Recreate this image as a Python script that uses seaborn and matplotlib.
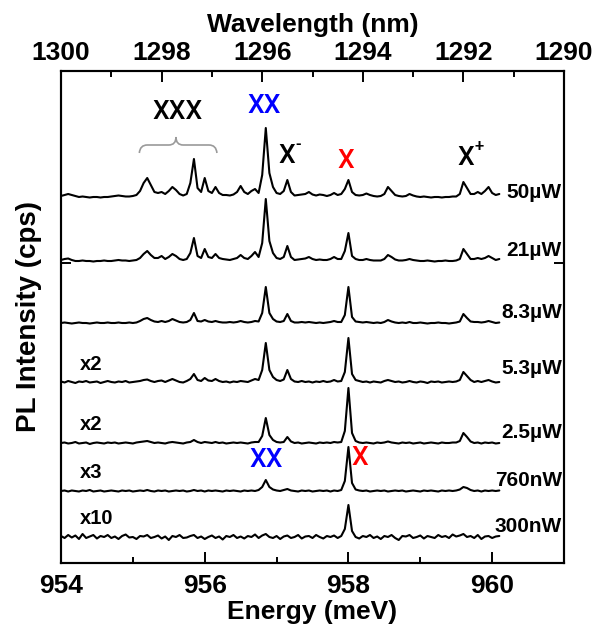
import numpy as np
import pandas as pd
import matplotlib
matplotlib.use("Agg")
import matplotlib.pyplot as plt
from matplotlib.path import Path
from matplotlib.patches import PathPatch
from matplotlib.ticker import MultipleLocator, FixedLocator, NullFormatter
import seaborn as sns

# ---------------------------------------------------------------- data
# photon energy of the spectrometer channels (meV), 0.05 meV steps
energy = np.linspace(954.0, 960.1, 123)

powers = ["50\u00b5W", "21\u00b5W", "8.3\u00b5W", "5.3\u00b5W", "2.5\u00b5W", "760nW", "300nW"]
multipliers = ["", "", "", "x2", "x2", "x3", "x10"]

# PL spectra (displayed intensity, arb. units, already multiplied)
pl_50uW = [1, 2, 3, 2, 1, 0, 0.5, 0, -0.5, 0,
           0, -0.5, 0, 0, 0.5, 1, 1.5, 1, 0.5, 0.5,
           1, 2, 6, 14, 19, 12, 5, 4, 5, 3,
           6, 10, 7, 3, 1.5, 3, 14, 38, 9, 5,
           19, 6, 4, 10, 4, 2, 2, 1.5, 2.5, 5,
           11, 5, 3, 6, 8, 4, 22, 69, 24, 10,
           4, 3, 6, 17, 5, 1.5, 2, 2.5, 3, 5,
           2.5, 1.5, 2.5, 2, 1, 2, 4, 2, 3, 8,
           17, 5, 2, 1.5, 2, 3.5, 2, 1, 0.5, 1,
           3, 10, 6, 2, 1, 0.5, 1, 3, 1.5, 0.5,
           0, 0.5, 0, -0.5, 0, 0, -0.5, 0, 0, 0.5,
           0.5, 3, 15, 9, 3, 3, 5, 3, 6, 10,
           4, 2, 3]
pl_21uW = [1, 2, 2.5, 1, 0, 0, 0.5, 0, 0, -0.5,
           0, 0, 0.5, 0, 0, 0.5, 1, 0.5, 0.5, 0,
           0.5, 1, 3, 7, 10, 6, 3, 3, 5, 2,
           4, 7, 5, 2, 1, 2, 8, 23, 5, 3,
           12, 4, 3, 7, 3, 2, 1.5, 1, 2, 3,
           6, 3, 2, 5, 9, 4, 18, 62, 20, 8,
           3, 2, 4, 15, 4, 1, 1.5, 2, 2.5, 4,
           2, 1, 1.5, 1, 1, 2, 4, 2, 2, 10,
           28, 5, 2, 1, 1, 2, 1, 0.5, 0.5, 0.5,
           2, 6, 4, 1.5, 0.5, 0.5, 1, 2, 1, 0.5,
           0, 0, 0.5, 0, -0.5, 0, 0, 0.5, 0, 0,
           0.5, 2, 12, 7, 2, 2, 3, 2, 3, 5,
           3, 1, 2]
pl_8uW = [0, 0.5, 0, -0.5, 0, 0.5, 0, 0, -0.5, 0,
          0.5, 0, 0, 0.5, 0, 0, 0.5, 0, 0, 0.5,
          0, 0.5, 2, 4, 5, 3, 1.5, 1, 2, 1,
          2, 4, 2.5, 1, 0.5, 1, 3, 10, 2, 1.5,
          3, 1.5, 1, 2, 1, 0.5, 0.5, 1, 0.5, 1,
          2, 1, 0.5, 1, 2, 1.5, 10, 36, 10, 4,
          1.5, 1, 2, 9, 2, 0.5, 0.5, 1, 0.5, 1,
          0.5, 0, 0.5, 0, 0.5, 1, 2, 1, 1, 8,
          36, 6, 1.5, 1, 0.5, 1, 0.5, 0, 0.5, 0,
          1, 3, 1.5, 0.5, 0, 0.5, 0, 1, 0, 0,
          0.5, 0, -0.5, 0, 0, 0.5, 0, 0, -0.5, 0,
          0.5, 1.5, 9, 5, 1.5, 1, 1, 0.5, 1, 2,
          1, 0, 0.5]
pl_5uW = [0.5, -0.5, 1, 0, -1, 0.5, 0, 1, -0.5, 0,
          0.5, -1, 0, 1, 0, -0.5, 0.5, 0, 1, -0.5,
          0, 0.5, 1, 2, 2.5, 1, 0, 1, 1.5, 0,
          1.5, 3, 1.5, 0, -0.5, 1, 3, 8, 2, 1,
          4, 1.5, 1, 3, 1, 0, 0.5, -0.5, 0.5, 0,
          1, 0.5, 0, 1.5, 3, 2, 12, 39, 12, 5,
          2, 1, 2.5, 12, 3, 0.5, 0, 1, 0, 0.5,
          -0.5, 0.5, 0, 1, 0, 0.5, 2, 0.5, 1, 10,
          44, 8, 2, 1, 0, 0.5, -0.5, 0.5, 0, -0.5,
          1, 2, 1, 0, 0.5, -0.5, 0, 1, 0, -0.5,
          0.5, 0, -1, 0.5, 0, 0.5, -0.5, 0, 0.5, 0,
          0.5, 2, 10, 6, 2, 0, 1, 0, 1, 2,
          0.5, -0.5, 0]
pl_2uW = [0, 0.5, -0.5, 0, 1, -0.5, 0, 0.5, -1, 0,
          0.5, 0, -0.5, 0.5, 0, 0.5, -0.5, 0, 0.5, 0,
          -0.5, 0.5, 1, 1.5, 2, 1, 0, 0.5, 0, -0.5,
          0.5, 1, 0.5, 0, -0.5, 0.5, 1, 3, 1, 0,
          1, 0.5, 0, 1, 0, 0.5, -0.5, 0, 0.5, 0,
          0.5, 0, -0.5, 0.5, 1, 1, 7, 25, 8, 3,
          1, 0.5, 1, 6, 1.5, 0, 0.5, -0.5, 0, 0.5,
          0, -0.5, 0.5, 0, 0.5, 0, 1, 0.5, 1, 12,
          55, 10, 2, 0.5, 0, 0.5, 0, -0.5, 0.5, 0,
          0.5, 1.5, 0.5, 0, -0.5, 0.5, 0, 0.5, -0.5, 0,
          0.5, -0.5, 0, 0.5, 0, -0.5, 0.5, 0, 0, 0.5,
          0.5, 2, 10, 6, 1.5, 0, 0.5, -0.5, 0.5, 0,
          0.5, -0.5, 0]
pl_760nW = [0, 0.5, -0.5, 0.5, 0, -0.5, 0.5, 0, 1, -0.5,
            0, 0.5, -0.5, 0, 0.5, 0, -0.5, 0.5, 0, 0.5,
            -0.5, 0, 0.5, 0, 1, 0, -0.5, 0.5, 0, 0.5,
            -0.5, 0, 0.5, 0, 0.5, -0.5, 0, 1, 0, 0.5,
            -0.5, 0.5, 0, 0.5, 0, -0.5, 0.5, 0, 0.5, 0,
            -0.5, 0.5, 0, 0.5, 0, 1, 4, 11, 4, 1.5,
            0.5, 0, 1, 2, 0.5, 0, -0.5, 0.5, 0, 0.5,
            -0.5, 0, 0.5, 0, 0.5, -0.5, 0.5, 0, 1, 10,
            44, 8, 1.5, 0.5, 0, 0.5, -0.5, 0, 0.5, 0,
            0.5, -0.5, 0, 0.5, 0, 0.5, -0.5, 0, 0.5, 0,
            -0.5, 0.5, 0, 0.5, 0, -0.5, 0.5, 0, 0.5, 0,
            0.5, 1.5, 4, 3, 1, 0, 0.5, -0.5, 0.5, 0,
            0.5, 0, 0.5]
pl_300nW = [1, -1, 2, -0.5, 1.5, -2, 3, -1, 0.5, 2,
            -1.5, 1, 0, 2, -1, 0.5, -2, 1, 2.5, -0.5,
            0, -2, 1, 0.5, 2, -1, 0, 1.5, -1.5, 0.5,
            -3, 1, 0, 2, -1, -0.5, 1, 2, -1, 0.5,
            -2, 0, 1.5, -1, 0.5, -2.5, 1, 0, 2, -1,
            0.5, -1.5, 1, 0, 2.5, -1, 1.5, 3, 0, -1,
            1, -2, 0.5, 1.5, -1, 0, 2, -1.5, 0.5, 1,
            -1, 2, 0, -1.5, 1, 0, 1.5, -1, 1, 8,
            32, 6, 0, -1.5, 1, 0, 2, -1, 0.5, -2,
            1, 0, 2, -1, -3, 1, 0.5, 2, -1, 0,
            1.5, -1.5, 1, 0, -1, 2, 0, 1, -1, 2.5,
            0.5, 1.5, 3, 0, 1, -1, 2, -2, 0.5, 1,
            -1, 0.5, 1]

spectra = [pl_50uW, pl_21uW, pl_8uW, pl_5uW, pl_2uW, pl_760nW, pl_300nW]

# ---------------------------------------------------------------- layout
offsets = [366, 302, 240, 181, 120, 72, 26]      # vertical stacking
power_label_y = [371, 313, 251, 195, 131, 83, 36]
mult_label_y = [None, None, None, 198, 138, 91, 45]

frames = []
for name, spec, off in zip(powers, spectra, offsets):
    frames.append(pd.DataFrame({"energy": energy,
                                "shifted": np.asarray(spec, float) + off,
                                "power": name}))
df = pd.concat(frames, ignore_index=True)

sns.set_theme(style="ticks")
plt.rcParams["font.family"] = ["Liberation Sans", "DejaVu Sans"]
for key in ["text.color", "axes.labelcolor", "xtick.color", "ytick.color", "axes.edgecolor"]:
    plt.rcParams[key] = "black"

fig = plt.figure(figsize=(5.95, 6.26), dpi=100)
ax = fig.add_axes([61 / 595, 1 - 563 / 626, 503 / 595, 492 / 626])

sns.lineplot(data=df, x="energy", y="shifted", units="power", estimator=None,
             color="black", lw=1.5, sort=False, legend=False, ax=ax)

ax.set_xlim(954, 961)
ax.set_ylim(0, 492)
ax.xaxis.set_major_locator(MultipleLocator(2))
ax.xaxis.set_minor_locator(MultipleLocator(1))
ax.yaxis.set_major_locator(FixedLocator([300]))
ax.yaxis.set_major_formatter(NullFormatter())
ax.tick_params(axis="x", which="major", direction="in", length=8, width=1.4,
               pad=8, labelsize=19)
ax.tick_params(axis="x", which="minor", direction="in", length=4.5, width=1.4)
ax.tick_params(axis="y", which="major", direction="in", length=7, width=1.4,
               left=True, right=True)
for lab in ax.get_xticklabels():
    lab.set_fontweight("bold")
for s in ax.spines.values():
    s.set_linewidth(1.5)
    s.set_color("black")
ax.set_xlabel("Energy (meV)", fontsize=19, fontweight="bold", labelpad=1)
ax.set_ylabel("PL Intensity (cps)", fontsize=20, fontweight="bold", labelpad=10)

# wavelength scale on top
ax2 = ax.twiny()
ax2.set_xlim(1300, 1290)
ax2.xaxis.set_major_locator(MultipleLocator(2))
ax2.xaxis.set_minor_locator(MultipleLocator(1))
ax2.tick_params(axis="x", which="major", direction="in", length=8, width=1.4,
                pad=4, labelsize=19)
ax2.tick_params(axis="x", which="minor", direction="in", length=4.5, width=1.4)
for lab in ax2.get_xticklabels():
    lab.set_fontweight("bold")
ax2.set_xlabel("Wavelength (nm)", fontsize=19, fontweight="bold", labelpad=7)
for s in ax2.spines.values():
    s.set_linewidth(1.5)

# power labels and multipliers
for name, y in zip(powers, power_label_y):
    ax.text(960.97, y, name, ha="right", va="center", fontsize=15, fontweight="bold")
for m, y in zip(multipliers, mult_label_y):
    if m:
        ax.text(954.26, y, m, ha="left", va="center", fontsize=14.5, fontweight="bold")

# peak assignments
peak_font = dict(family=["Roboto", "Liberation Sans"], fontweight="medium",
                 fontsize=19, ha="center", va="center")
sup_font = dict(family=["Roboto", "Liberation Sans"], fontweight="medium",
                fontsize=12, ha="left", va="center")
ax.text(955.62, 451, "XXX", **peak_font)
ax.text(956.83, 457, "XX", color="#0000ff", **peak_font)
ax.text(957.14, 407, "X", **peak_font)
ax.annotate("-", xy=(957.14, 407), xytext=(6.5, 8), textcoords="offset points", **sup_font)
ax.text(957.96, 402, "X", color="#ff0000", **peak_font)
ax.text(959.64, 405, "X", **peak_font)
ax.annotate("+", xy=(959.64, 405), xytext=(6, 8), textcoords="offset points", **sup_font)
ax.text(956.85, 103, "XX", color="#0000ff", **peak_font)
ax.text(958.16, 105, "X", color="#ff0000", **peak_font)

# curly brace grouping the triexciton lines
verts = [(955.09, 410), (955.10, 418), (955.20, 418),
         (955.50, 418),
         (955.60, 418), (955.60, 426),
         (955.60, 418), (955.70, 418),
         (956.06, 418),
         (956.16, 418), (956.17, 410)]
codes = [Path.MOVETO, Path.CURVE3, Path.CURVE3,
         Path.LINETO,
         Path.CURVE3, Path.CURVE3,
         Path.CURVE3, Path.CURVE3,
         Path.LINETO,
         Path.CURVE3, Path.CURVE3]
ax.add_patch(PathPatch(Path(verts, codes), fill=False, edgecolor="#9a9a9a", lw=1.2))

fig.savefig("out.png", dpi=100)
